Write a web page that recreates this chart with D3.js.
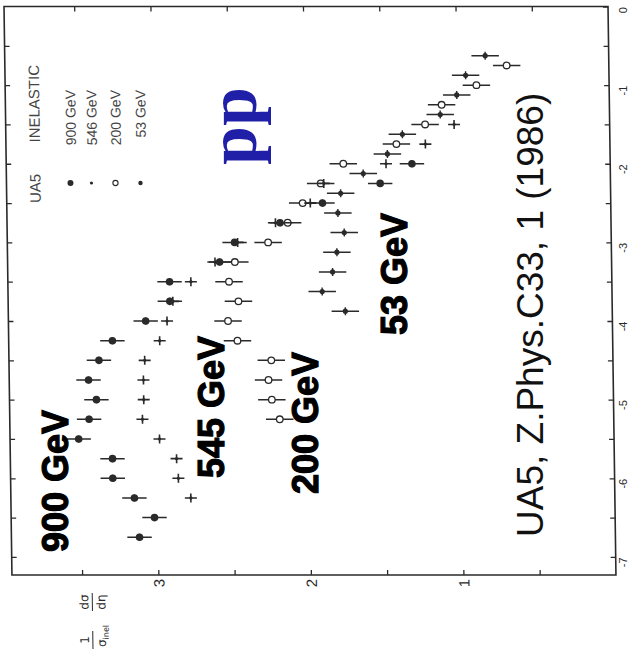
<!DOCTYPE html>
<html lang="en">
<head>
<meta charset="UTF-8">
<title>UA5 pp pseudorapidity</title>
<script src="https://d3js.org/d3.v7.min.js"></script>
<style>
  body { margin: 0; background: #fff; }
</style>
</head>
<body>
<svg id="chart" width="635" height="664"></svg>
<script>
// eta' = eta - y_beam (vertical axis of the rotated scan), values = 1/sigma dsigma/deta
var eta900 = [-6.75,-6.5,-6.25,-6.0,-5.75,-5.5,-5.25,-5.0,-4.75,-4.5,-4.25,-4.0,-3.75,-3.5,-3.25,-3.0,-2.75,-2.5,-2.25,-2.0];
var dn900  = [3.12,3.02,3.15,3.29,3.29,3.51,3.44,3.39,3.44,3.37,3.28,3.06,2.90,2.90,2.57,2.47,2.17,1.89,1.51,1.30];

var eta546 = [-6.25,-6.0,-5.75,-5.5,-5.25,-5.0,-4.75,-4.5,-4.25,-4.0,-3.75,-3.5,-3.25,-3.0,-2.75,-2.5,-2.25,-2.0,-1.75,-1.5];
var dn546  = [2.78,2.86,2.87,2.98,3.09,3.08,3.08,3.07,2.97,2.92,2.88,2.76,2.60,2.45,2.20,1.97,1.88,1.47,1.21,1.02];

var eta200 = [-5.25,-5.0,-4.75,-4.5,-4.25,-4.0,-3.75,-3.5,-3.25,-3.0,-2.75,-2.5,-2.25,-2.0,-1.75,-1.5,-1.25,-1.0,-0.75];
var dn200  = [2.19,2.24,2.26,2.24,2.46,2.52,2.45,2.51,2.47,2.25,2.12,2.02,1.90,1.75,1.40,1.21,1.10,0.87,0.67];

var eta53 = [-3.875,-3.625,-3.375,-3.125,-2.875,-2.625,-2.375,-2.125,-1.875,-1.625,-1.375,-1.125,-0.875,-0.625];
var dn53  = [1.75,1.90,1.83,1.80,1.75,1.79,1.77,1.62,1.46,1.36,1.11,1.00,0.94,0.81];

// error half-widths (data units)
var err900 = 0.08, err546 = 0.04, err200 = 0.09, err53 = 0.09;

var etaTicks = [0,-1,-2,-3,-4,-5,-6,-7];
var valueTicks = [1,2,3];
var legendLabels = ["900 GeV","546 GeV","200 GeV","53 GeV"];

var svg = d3.select("#chart");
var ink = "#2a2a2a";

var x = d3.scaleLinear().domain([0, 3.96]).range([612, 8]);     // value axis (horizontal)
var y = d3.scaleLinear().domain([0, -7.23]).range([6.5, 575]);  // eta' axis (vertical)

// scanned page is slightly sheared
var page = svg.append("g").attr("transform", "translate(0,292) skewX(0.8) translate(0,-292)");

// frame
page.append("rect")
  .attr("x", x.range()[1]).attr("y", y.range()[0])
  .attr("width", x.range()[0] - x.range()[1])
  .attr("height", y.range()[1] - y.range()[0])
  .attr("fill", "none").attr("stroke", ink).attr("stroke-width", 1.6);

var halfEta = d3.range(0, -7.01, -0.5);
var halfVal = d3.range(0.5, 3.96, 0.5);

function tickStyle(g) {
  g.select(".domain").remove();
  g.selectAll("line").attr("stroke", ink).attr("stroke-width", 1.3);
}

page.append("g").attr("transform", "translate(" + x(0) + ",0)")
  .call(d3.axisRight(y).tickValues(halfEta).tickSize(-5).tickFormat("")).call(tickStyle);
page.append("g").attr("transform", "translate(" + x.range()[1] + ",0)")
  .call(d3.axisLeft(y).tickValues(halfEta.slice(1)).tickSize(-5).tickFormat("")).call(tickStyle);
page.append("g").attr("transform", "translate(0," + y.range()[1] + ")")
  .call(d3.axisBottom(x).tickValues(halfVal).tickSize(-5).tickFormat("")).call(tickStyle);
page.append("g").attr("transform", "translate(0," + y.range()[0] + ")")
  .call(d3.axisTop(x).tickValues(halfVal).tickSize(-5).tickFormat("")).call(tickStyle);

// value tick labels (rotated like the scan)
page.selectAll(".vlab").data(valueTicks).enter().append("text")
  .attr("transform", function(d) { return "translate(" + (x(d) + 6) + ",583) rotate(-90)"; })
  .attr("text-anchor", "middle")
  .attr("font-family", "Liberation Sans, Arial, sans-serif")
  .attr("font-size", 15).attr("fill", ink)
  .text(function(d) { return d; });

// eta tick labels
svg.selectAll(".elab").data(etaTicks).enter().append("text")
  .attr("transform", function(d) { return "translate(627," + (y(d) + 0.5) + ") rotate(-90)"; })
  .attr("text-anchor", "end")
  .attr("font-family", "Liberation Sans, Arial, sans-serif")
  .attr("font-size", 11).attr("fill", ink)
  .text(function(d) { return d === 0 ? "0" : "-" + Math.abs(d); });

// axis title: 1/sigma_inel dsigma/deta
var title = page.append("g").attr("transform", "translate(88,622) rotate(-90)")
  .attr("font-family", "DejaVu Sans, sans-serif").attr("fill", ink).attr("font-size", 12);
title.append("text").attr("x", -18).attr("y", -4).attr("text-anchor", "middle").text("1");
title.append("line").attr("x1", -27).attr("x2", -9).attr("y1", 0).attr("y2", 0).attr("stroke", ink).attr("stroke-width", 1);
var den = title.append("text").attr("x", -25).attr("y", 13);
den.append("tspan").text("σ");
den.append("tspan").attr("font-size", 8).attr("dy", 3).text("inel");
title.append("text").attr("x", 20).attr("y", -4).attr("text-anchor", "middle").text("dσ");
title.append("line").attr("x1", 11).attr("x2", 29).attr("y1", 0).attr("y2", 0).attr("stroke", ink).attr("stroke-width", 1);
title.append("text").attr("x", 20).attr("y", 13).attr("text-anchor", "middle").text("dη");

// legend
var legX = [72, 93, 117, 142];
page.append("text").attr("transform", "translate(42,203) rotate(-90)")
  .attr("font-family", "Liberation Sans, Arial, sans-serif").attr("font-size", 15).attr("fill", "#444")
  .text("UA5");
page.append("text").attr("transform", "translate(42,65) rotate(-90)")
  .attr("text-anchor", "end")
  .attr("font-family", "Liberation Sans, Arial, sans-serif").attr("font-size", 15).attr("fill", "#444")
  .text("INELASTIC");
page.selectAll(".leglab").data(legendLabels).enter().append("text")
  .attr("transform", function(d, i) { return "translate(" + (legX[i] + 6) + ",90) rotate(-90)"; })
  .attr("text-anchor", "end")
  .attr("font-family", "Liberation Sans, Arial, sans-serif").attr("font-size", 14).attr("fill", "#444")
  .text(function(d) { return d; });

// markers
function drawSeries(etas, vals, err, kind) {
  var g = page.append("g");
  etas.forEach(function(e, i) {
    var cx = x(vals[i]), cy = y(e);
    if (kind === "plus") {
      g.append("line").attr("x1", cx - 6).attr("x2", cx + 6).attr("y1", cy).attr("y2", cy)
        .attr("stroke", ink).attr("stroke-width", 1.6);
      g.append("line").attr("x1", cx).attr("x2", cx).attr("y1", cy - 4.5).attr("y2", cy + 4.5)
        .attr("stroke", ink).attr("stroke-width", 1.6);
      g.append("circle").attr("cx", cx).attr("cy", cy).attr("r", 1.6).attr("fill", ink);
      return;
    }
    g.append("line").attr("x1", x(vals[i] + err)).attr("x2", x(vals[i] - err))
      .attr("y1", cy).attr("y2", cy).attr("stroke", ink).attr("stroke-width", 1.5);
    if (kind === "small") {
      g.append("line").attr("x1", cx).attr("x2", cx).attr("y1", cy - 4).attr("y2", cy + 4)
        .attr("stroke", ink).attr("stroke-width", 1.4);
      g.append("circle").attr("cx", cx).attr("cy", cy).attr("r", 2.6).attr("fill", ink);
    } else if (kind === "open") {
      g.append("circle").attr("cx", cx).attr("cy", cy).attr("r", 3.3)
        .attr("fill", "#fff").attr("stroke", ink).attr("stroke-width", 1.3);
    } else {
      g.append("line").attr("x1", cx).attr("x2", cx).attr("y1", cy - 3.5).attr("y2", cy + 3.5)
        .attr("stroke", ink).attr("stroke-width", 1.4);
      g.append("circle").attr("cx", cx).attr("cy", cy).attr("r", 3.8).attr("fill", ink);
    }
  });
}
drawSeries(eta200, dn200, err200, "open");
drawSeries(eta53, dn53, err53, "small");
drawSeries(eta546, dn546, err546, "plus");
drawSeries(eta900, dn900, err900, "big");

// legend symbols
page.append("circle").attr("cx", legX[0]).attr("cy", 183).attr("r", 3).attr("fill", ink);
page.append("circle").attr("cx", legX[1]).attr("cy", 183).attr("r", 1.6).attr("fill", ink);
page.append("circle").attr("cx", legX[2]).attr("cy", 183).attr("r", 2.6).attr("fill", "#fff").attr("stroke", ink).attr("stroke-width", 1.1);
page.append("circle").attr("cx", legX[3]).attr("cy", 183).attr("r", 2.2).attr("fill", ink);

// overlay annotations
function bigLabel(txt, bx, by) {
  svg.append("text").attr("transform", "translate(" + bx + "," + by + ") rotate(-90)")
    .attr("font-family", "Liberation Sans, Arial, sans-serif")
    .attr("font-weight", "bold").attr("font-size", 36)
    .attr("fill", "#000").attr("stroke", "#000").attr("stroke-width", 1.2)
    .text(txt);
}
bigLabel("900 GeV", 68, 552);
bigLabel("545 GeV", 224, 478);
bigLabel("200 GeV", 318, 494);
bigLabel("53 GeV", 407, 335);

svg.append("text").attr("transform", "translate(256,165) rotate(-90)")
  .attr("font-family", "Liberation Serif, Times New Roman, serif")
  .attr("font-weight", "bold").attr("font-size", 70).attr("fill", "#1f1fa8")
  .text("pp");

svg.append("text").attr("transform", "translate(543,537) rotate(-90)")
  .attr("font-family", "Liberation Sans, Arial, sans-serif")
  .attr("font-size", 37).attr("fill", "#111")
  .text("UA5, Z.Phys.C33, 1 (1986)");
</script>
</body>
</html>
